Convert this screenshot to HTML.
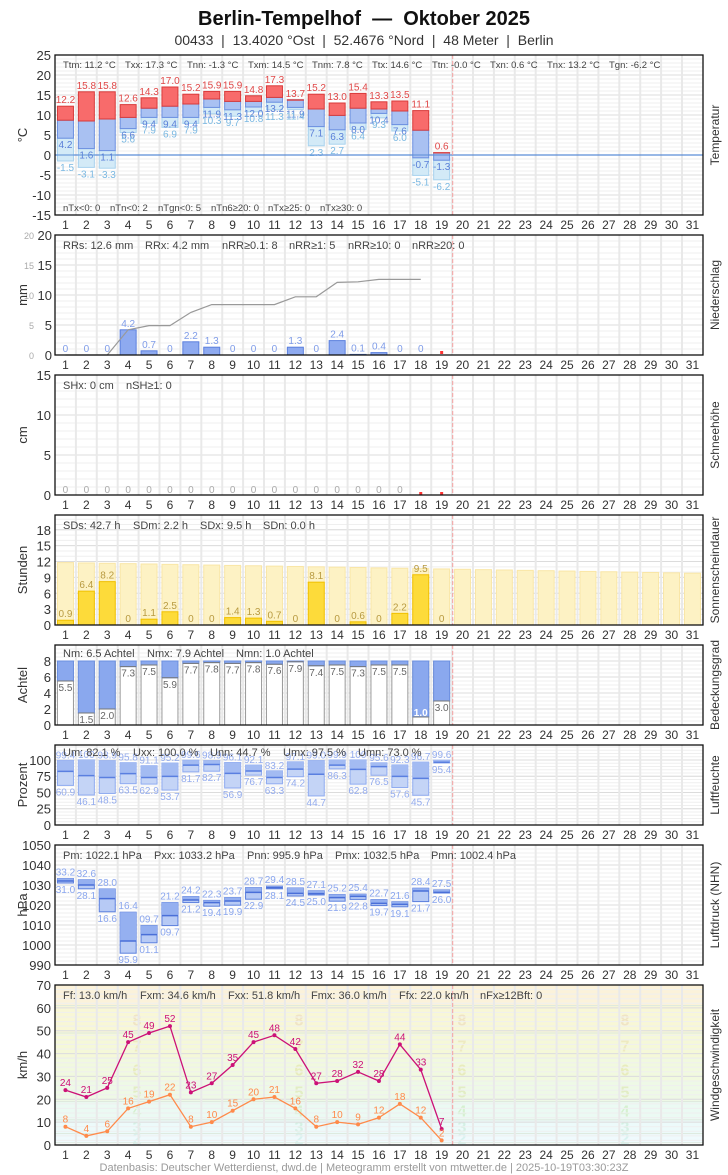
<!DOCTYPE html>
<html><head><meta charset="utf-8">
<style>
html,body{margin:0;padding:0;background:#fff;width:728px;height:1175px;overflow:hidden}
svg{display:block;font-family:"Liberation Sans",sans-serif}
</style></head>
<body>
<svg id="c" width="728" height="1175" viewBox="0 0 728 1175" xmlns="http://www.w3.org/2000/svg">
<text x="364" y="25" text-anchor="middle" font-size="20" font-weight="bold" fill="#111" xml:space="preserve" style="white-space:pre">Berlin-Tempelhof  —  Oktober 2025</text>
<text x="364" y="45" text-anchor="middle" font-size="14" fill="#333" xml:space="preserve" style="white-space:pre">00433  |  13.4020 °Ost  |  52.4676 °Nord  |  48 Meter  |  Berlin</text>
<text x="364" y="1171" text-anchor="middle" font-size="11" fill="#999">Datenbasis: Deutscher Wetterdienst, dwd.de | Meteogramm erstellt von mtwetter.de | 2025-10-19T03:30:23Z</text>
</svg>
<script>
var S=[];const L=55,R=703,W=20.9;
const X=d=>L+(d-.5)*W;
function t(x,y,s,o){o=o||{};S.push(`<text x="${x}" y="${y}" font-size="${o.fs||10}" fill="${o.c||'#444'}" text-anchor="${o.a||'middle'}"${o.fw?' font-weight="bold"':''}${o.tr?` transform="${o.tr}"`:''}>${s}</text>`);}
function r(x,y,w,h,f,s,sw){if(h<0){y+=h;h=-h;}S.push(`<rect x="${x}" y="${y}" width="${w}" height="${h}" fill="${f}"${s?` stroke="${s}" stroke-width="${sw||1}"`:''}/>`);}
function ln(x1,y1,x2,y2,c,w,da){S.push(`<line x1="${x1}" y1="${y1}" x2="${x2}" y2="${y2}" stroke="${c}" stroke-width="${w||1}"${da?` stroke-dasharray="${da}"`:''}/>`);}
function P(o){
 const Y=v=>o.b-(v-o.min)*(o.b-o.t)/(o.max-o.min);o.Y=Y;
 if(!o.nobg) r(L,o.t,R-L,o.b-o.t,'#fff');
 if(o.bg) o.bg(Y);
 for(let v=Math.ceil(o.min/o.mi)*o.mi;v<=o.max;v+=o.mi){ln(L,Y(v),R,Y(v),'#efefef',1);}
 for(let v=o.t0;v<=o.max;v+=o.ma){ln(L,Y(v),R,Y(v),'#dcdcdc',1);}
 for(let d=1;d<31;d++)ln(L+d*W,o.t,L+d*W,o.b,'#e9e9e9',2);
 return Y;}
function F(o){
 ln(452.7,o.t,452.7,o.b,'#f4a0a0',1,'4,2');
 r(L,o.t,R-L,o.b-o.t,'none','#111',1.3);
 const tm=o.tmax!==undefined?o.tmax:o.max;
 for(let v=o.t0;v<=tm+.01;v+=o.ma){if(o.Y(v)<o.t-2)continue;t(o.lx||51,o.Y(v)+5,v,{fs:13,c:'#333',a:'end'});}
 for(let d=1;d<=31;d++)t(X(d),o.b+14,d,{fs:12,c:'#333'});
 const cy=(o.t+o.b)/2;
 t(27,cy,o.yl,{fs:13,c:'#333',tr:`rotate(-90 27 ${cy})`});
 t(719,cy,o.rl,{fs:12,c:'#333',tr:`rotate(-90 719 ${cy})`});
 o.st.forEach(s=>t(s[1],o.sy,s[0],{fs:o.sfs||11,c:'#444',a:'start'}));
 if(o.st2)o.st2.forEach(s=>t(s[1],o.sy2,s[0],{fs:o.sfs||11,c:'#444',a:'start'}));
}
const bw=16,bx=d=>X(d)-8;
// Temperature
let o={t:55,b:215,min:-15,max:25,mi:1,ma:5,t0:-15,yl:'°C',rl:'Temperatur',sy:68,sfs:9.5,sy2:211,
st:[['Ttm: 11.2 °C',63],['Txx: 17.3 °C',125],['Tnn: -1.3 °C',187],['Txm: 14.5 °C',248],['Tnm: 7.8 °C',312],['Ttx: 14.6 °C',372],['Ttn: -0.0 °C',432],['Txn: 0.6 °C',490],['Tnx: 13.2 °C',547],['Tgn: -6.2 °C',609]],
st2:[['nTx&lt;0: 0',63],['nTn&lt;0: 2',110],['nTgn&lt;0: 5',158],['nTn6≥20: 0',211],['nTx≥25: 0',268],['nTx≥30: 0',320]]};
let Y=P(o);
const tx=[12.2,15.8,15.8,12.6,14.3,17.0,15.2,15.9,15.9,14.8,17.3,13.7,15.2,13.0,15.4,13.3,13.5,11.1,0.6],
tm=[8.7,8.5,9.0,9.4,11.7,12.2,12.75,14,13.4,13.4,14.4,13.8,11.5,9.9,11.7,11.5,11,6.2,0.5],
tn=[4.2,1.6,1.1,6.6,9.4,9.4,9.4,11.9,11.3,12.0,13.2,11.9,7.1,6.3,8.0,10.4,7.6,-0.7,-1.3],
tg=[-1.5,-3.1,-3.3,5.6,7.9,6.9,7.9,10.3,9.7,10.8,11.3,11.4,2.3,2.7,6.4,9.3,6.0,-5.1,-6.2];
ln(L,Y(0),R,Y(0),'#5b8dd6',1.3);
for(let i=0;i<19;i++){const d=i+1,x=bx(d);
 r(x,Y(tn[i]),bw,Y(tg[i])-Y(tn[i]),'#d3eaf7','#a8d2ee');
 r(x,Y(tm[i]),bw,Y(tn[i])-Y(tm[i]),'#a9c1f2','#6b8fe0');
 r(x,Y(tx[i]),bw,Y(tm[i])-Y(tx[i]),'#f86b6b','#d83a3a');
 t(X(d),Y(tx[i])-3,tx[i].toFixed(1),{c:'#e04848'});
 t(X(d),Y(tn[i])+10,tn[i].toFixed(1),{c:'#5a7fd8'});
 t(X(d),Y(tg[i])+10,tg[i].toFixed(1),{c:'#7ab8e2'});}
ln(L,Y(0),R,Y(0),'#5b8dd6',1);
F(o);
// Precip
o={t:235,b:355,min:0,max:20,mi:1,ma:5,t0:0,yl:'mm',rl:'Niederschlag',sy:249,
st:[['RRs: 12.6 mm',63],['RRx: 4.2 mm',145],['nRR≥0.1: 8',222],['nRR≥1: 5',289],['nRR≥10: 0',348],['nRR≥20: 0',412]]};
Y=P(o);
const pr=[0,0,0,4.2,0.7,0,2.2,1.3,0,0,0,1.3,0,2.4,0.1,0.4,0,0];
let cum=0,pts=[];
for(let i=0;i<18;i++){const d=i+1;cum+=pr[i];
 if(pr[i]>0)r(bx(d),Y(pr[i]),bw,Y(0)-Y(pr[i]),'#8eaaf0','#5b7fdd');
 t(X(d),Y(pr[i])-3,pr[i]==0?'0':pr[i].toFixed(1),{c:'#7f9ce8'});
 pts.push(`${X(d)},${Y(cum).toFixed(1)}`);}
S.push(`<polyline points="65.45,${Y(0)} ${pts.slice(2).join(' ')}" fill="none" stroke="#999" stroke-width="1.2"/>`);
r(X(19)-1.5,Y(0)-4,3,3,'#f33');
for(let v=0;v<=20;v+=5)t(34,Y(v)+4,v,{fs:9,c:'#aaa',a:'end'});
o.lx=52;
F(o);
// Snow
o={t:375,b:495,min:0,max:15,mi:1,ma:5,t0:0,yl:'cm',rl:'Schneehöhe',sy:389,st:[['SHx: 0 cm',63],['nSH≥1: 0',126]]};
Y=P(o);
for(let d=1;d<=17;d++)t(X(d),Y(0)-2,'0',{c:'#aaa'});
r(X(18)-1.5,Y(0)-3,3,3,'#f33');r(X(19)-1.5,Y(0)-3,3,3,'#f33');
F(o);
// Sun
o={t:515,b:625,min:0,max:20.8,mi:1,ma:3,t0:0,tmax:18,yl:'Stunden',rl:'Sonnenscheindauer',sy:529,
st:[['SDs: 42.7 h',63],['SDm: 2.2 h',133],['SDx: 9.5 h',200],['SDn: 0.0 h',263]]};
Y=P(o);
const sd=[0.9,6.4,8.2,0,1.1,2.5,0,0,1.4,1.3,0.7,0,8.1,0,0.6,0,2.2,9.5,0];
for(let d=1;d<=31;d++){const m=11.8-(d-1)*2/30;r(bx(d),Y(m),bw,Y(0)-Y(m),'#fdf2c4','#f9e6a6');}
for(let i=0;i<19;i++){const d=i+1;if(sd[i]>0)r(bx(d),Y(sd[i]),bw,Y(0)-Y(sd[i]),'#fddb3a','#f0c000');
 t(X(d),Y(sd[i])-3,sd[i]==0?'0':sd[i].toFixed(1),{c:'#b89a40'});}
F(o);
// Clouds
o={t:645,b:725,min:0,max:10,mi:.5,ma:2,t0:0,tmax:8,yl:'Achtel',rl:'Bedeckungsgrad',sy:657,
st:[['Nm: 6.5 Achtel',63],['Nmx: 7.9 Achtel',147],['Nmn: 1.0 Achtel',236]]};
Y=P(o);
const nn=[5.5,1.5,2.0,7.3,7.5,5.9,7.7,7.8,7.7,7.8,7.6,7.9,7.4,7.5,7.3,7.5,7.5,1.0,3.0];
for(let i=0;i<19;i++){const d=i+1,x=bx(d);
 r(x,Y(8),bw,Y(0)-Y(8),'#fff','#999');
 r(x,Y(8),bw,Y(nn[i])-Y(8),'#8aa8ee','#6b8fe0');
 ln(x,Y(nn[i]),x+bw,Y(nn[i]),'#777',1);
 if(d==18)t(X(d),Y(nn[i])-1,'1.0',{c:'#fff',fw:1});
 else t(X(d),Y(nn[i])+10,nn[i].toFixed(1),{c:'#666'});}
F(o);
// Humidity
o={t:745,b:825,min:0,max:123,mi:5,ma:25,t0:0,tmax:100,yl:'Prozent',rl:'Luftfeuchte',sy:756,
st:[['Um: 82.1 %',63],['Uxx: 100.0 %',133],['Unn: 44.7 %',210],['Umx: 97.5 %',283],['Umn: 73.0 %',358]]};
Y=P(o);
const ux=[99.4,100,98.9,95.8,91.1,95.2,99.6,98.9,96.1,92.1,83.2,97.1,99.0,99.9,100,95.6,92.3,96.7,99.6],
un=[60.9,46.1,48.5,63.5,62.9,53.7,81.7,82.7,56.9,76.7,63.3,74.2,44.7,86.3,62.8,76.5,57.6,45.7,95.4],
um=[82.5,76,73,79,73,74.7,92,93,79.4,83,73,86,78,92,85.6,89.7,74.7,71.6,96.4];
for(let i=0;i<19;i++){const d=i+1,x=bx(d);
 r(x,Y(ux[i]),bw,Y(un[i])-Y(ux[i]),'#c4d4f6','#8eaaf0');
 r(x,Y(ux[i]),bw,Y(um[i])-Y(ux[i]),'#a3bbf2');
 ln(x,Y(um[i]),x+bw,Y(um[i]),'#5a7fe0',1.5);
 t(X(d),Y(ux[i])-2,ux[i]==100?'100':ux[i].toFixed(1),{c:'#94acee'});
 t(X(d),Y(un[i])+10,un[i].toFixed(1),{c:'#94acee'});}
F(o);
// Pressure
o={t:845,b:965,min:990,max:1050,mi:2,ma:10,t0:990,yl:'hPa',rl:'Luftdruck (NHN)',sy:859,
st:[['Pm: 1022.1 hPa',63],['Pxx: 1033.2 hPa',154],['Pnn: 995.9 hPa',247],['Pmx: 1032.5 hPa',335],['Pmn: 1002.4 hPa',431]]};
Y=P(o);
const px=[1033.2,1032.6,1028.0,1016.4,1009.7,1021.2,1024.2,1022.3,1023.7,1028.7,1029.4,1028.5,1027.1,1025.2,1025.4,1022.7,1021.6,1028.4,1027.5],
pn=[1031.0,1028.1,1016.6,995.9,1001.1,1009.7,1021.2,1019.4,1019.9,1022.9,1028.1,1024.5,1025.0,1021.9,1022.8,1019.7,1019.1,1021.7,1026.0],
pm=[1032,1030,1023.2,1002,1005.2,1014.7,1022.5,1021.2,1022,1026.3,1028.7,1025.8,1025.7,1023.7,1024.3,1020.8,1020.3,1027,1026.3];
const p2=v=>{let s=v.toFixed(1);return s.slice(s.length-4);};
for(let i=0;i<19;i++){const d=i+1,x=bx(d);
 r(x,Y(px[i]),bw,Y(pn[i])-Y(px[i]),'#b7caf5','#5b7fdd');
 r(x,Y(px[i]),bw,Y(pm[i])-Y(px[i]),'#95b0f0');
 ln(x,Y(pm[i]),x+bw,Y(pm[i]),'#4a6fd8',1.5);
 t(X(d),Y(px[i])-3,p2(px[i]),{c:'#8aa6ee'});
 t(X(d),Y(pn[i])+10,p2(pn[i]),{c:'#8aa6ee'});}
F(o);
// Wind
o={t:985,b:1145,min:0,max:70,mi:2,ma:10,t0:0,yl:'km/h',rl:'Windgeschwindigkeit',sy:999,nobg:1,
st:[['Ff: 13.0 km/h',63],['Fxm: 34.6 km/h',140],['Fxx: 51.8 km/h',228],['Fmx: 36.0 km/h',311],['Ffx: 22.0 km/h',399],['nFx≥12Bft: 0',480]],
bg:Y=>{const bands=[[0,1,'#ffffff'],[1,5,'#effafd'],[5,11,'#ecfafa'],[11,19,'#ebfaf3'],[19,28,'#eef9e6'],[28,38,'#f1f9df'],[38,49,'#f5f8d8'],[49,61,'#f8f7d6'],[61,70,'#fbf2da']];
 bands.forEach(b=>r(L,Y(b[1]),R-L,Y(b[0])-Y(b[1]),b[2]));
 const nc=['#d8f2f0','#d4f0e4','#d6f0d0','#e2edc4','#e8ecbc','#eeeac0','#f0e4c4'];
 for(let k=2;k<=8;k++){const m=(bands[k-1][0]+bands[k-1][1])/2;[137,299,462,625].forEach(xx=>t(xx,Y(m)+6,k,{fs:16,c:nc[k-2],fw:1}));}
 bands.forEach(b=>ln(L,Y(b[1]),R,Y(b[1]),'#dde8dd',1));}};
Y=P(o);
const fx=[24,21,25,45,49,52,23,27,35,45,48,42,27,28,32,28,44,33,7],ff=[8,4,6,16,19,22,8,10,15,20,21,16,8,10,9,12,18,12,2];
[[fx,'#cc1177'],[ff,'#ff8a4a']].forEach(([a,c])=>{
 S.push(`<polyline points="${a.map((v,i)=>X(i+1)+','+Y(v).toFixed(1)).join(' ')}" fill="none" stroke="${c}" stroke-width="1.3"/>`);
 a.forEach((v,i)=>{S.push(`<circle cx="${X(i+1)}" cy="${Y(v)}" r="2" fill="${c}"/>`);t(X(i+1),Y(v)-4,v,{c:c});});});
F(o);
document.getElementById('c').insertAdjacentHTML('afterbegin',S.join(''));
</script>
</body></html>
